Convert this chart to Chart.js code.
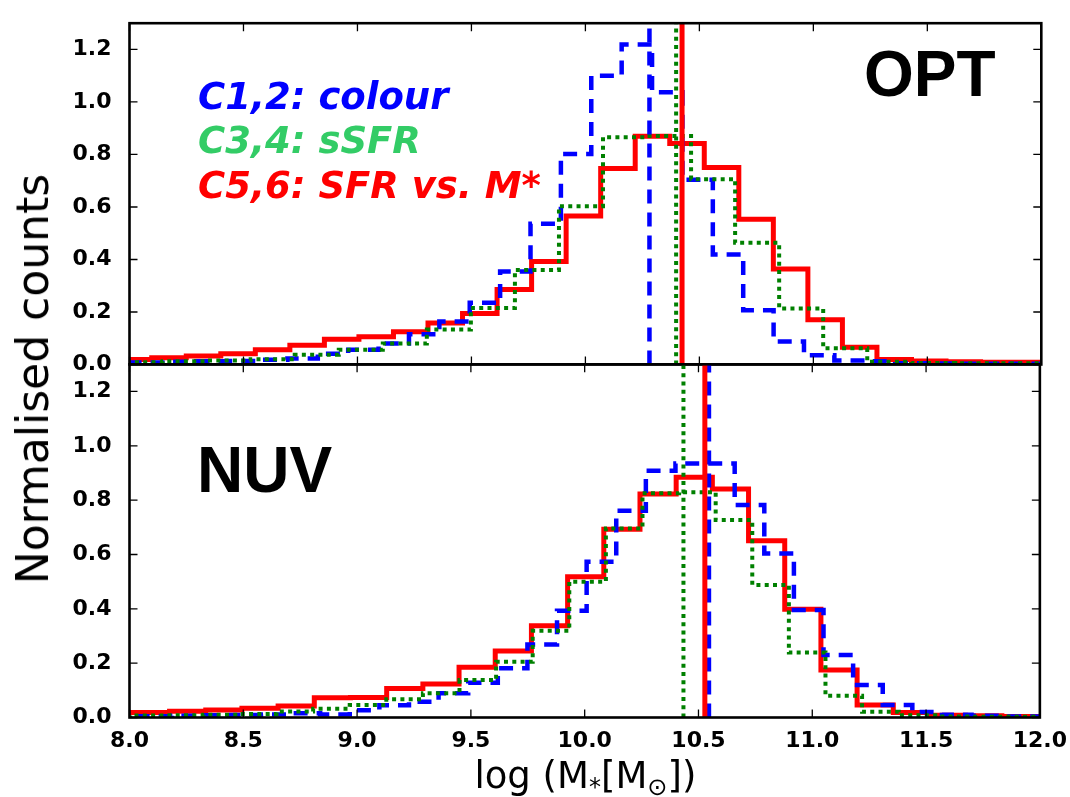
<!DOCTYPE html>
<html><head><meta charset="utf-8">
<script src="https://cdn.jsdelivr.net/npm/chart.js@4.4.1/dist/chart.umd.min.js"></script>
<style>
html,body{margin:0;padding:0;background:#fff;}
#wrap{position:relative;width:1070px;height:797px;overflow:hidden;background:#fff;}
canvas{position:absolute;left:0;top:0;width:1070px;height:797px;}
.t{position:absolute;white-space:nowrap;line-height:1;margin:0;padding:0;}
.ann{font-family:"DejaVu Sans";font-weight:bold;font-style:italic;font-size:37px;left:198px;}
.big{font-family:"Liberation Sans";font-weight:bold;font-size:64px;color:#000;}
</style></head><body>
<div id="wrap">
<canvas id="cTop" width="1070" height="797"></canvas>
<canvas id="cBot" width="1070" height="797"></canvas>
<div class="t" id="ylab" style="font-family:'DejaVu Sans';font-size:44px;color:#000;left:32.5px;top:379px;transform:translate(-50%,-50%) rotate(-90deg);">Normalised counts</div>
<div class="t" id="xlab" style="font-family:'DejaVu Sans';font-size:37px;color:#000;left:585.4px;top:757px;transform:translateX(-50%);">log (M<span style="font-size:0.65em;position:relative;top:0.3em;">*</span>[M<span style="font-size:0.65em;position:relative;top:0.3em;">⊙</span>])</div>
<div class="t ann" style="top:77.5px;color:#0000ff;">C1,2: colour</div>
<div class="t ann" style="top:121.5px;color:#33cc66;">C3,4: sSFR</div>
<div class="t ann" style="top:166.5px;color:#ff0000;">C5,6: SFR vs. M*</div>
<div class="t big" style="left:864px;top:42px;">OPT</div>
<div class="t big" style="left:197px;top:438px;">NUV</div>
</div>
<script>
// ---- axis ticks ----
const xTickValues = [8.0, 8.5, 9.0, 9.5, 10.0, 10.5, 11.0, 11.5, 12.0];
const xTickLabels = ['8.0', '8.5', '9.0', '9.5', '10.0', '10.5', '11.0', '11.5', '12.0'];
const yTickValues = [0.0, 0.2, 0.4, 0.6, 0.8, 1.0, 1.2];
const yTickLabels = ['0.0', '0.2', '0.4', '0.6', '0.8', '1.0', '1.2'];

// ---- OPT panel (top) ----
const optColourBinStart = 7.893, optColourBinWidth = 0.1333;
const optColourCounts = [0.006, 0.008, 0.008, 0.010, 0.012, 0.013, 0.018, 0.023, 0.041, 0.056, 0.080, 0.115, 0.164, 0.235, 0.354, 0.536, 0.802, 1.100, 1.219, 1.037, 0.704, 0.419, 0.207, 0.088, 0.035, 0.015, 0.012, 0.005, 0.004, 0.003, 0.003];
const optSsfrBinStart = 7.952, optSsfrBinWidth = 0.1932;
const optSsfrCounts = [0.008, 0.009, 0.012, 0.015, 0.020, 0.037, 0.056, 0.080, 0.133, 0.215, 0.360, 0.603, 0.866, 0.870, 0.706, 0.464, 0.213, 0.062, 0.010, 0.006, 0.005];
const optSfrmBinStart = 7.946, optSfrmBinWidth = 0.1515;
const optSfrmCounts = [0.018, 0.019, 0.026, 0.032, 0.041, 0.056, 0.073, 0.096, 0.106, 0.125, 0.158, 0.194, 0.286, 0.392, 0.566, 0.747, 0.869, 0.842, 0.750, 0.553, 0.364, 0.170, 0.066, 0.019, 0.013, 0.010, 0.009];
const optMedians = [10.281, 10.398, 10.424]; // colour, sSFR, SFR vs M*

// ---- NUV panel (bottom) ----
const nuvColourBinStart = 7.927, nuvColourBinWidth = 0.1301;
const nuvColourCounts = [0.004, 0.005, 0.005, 0.006, 0.008, 0.009, 0.011, 0.016, 0.011, 0.027, 0.045, 0.058, 0.089, 0.128, 0.181, 0.269, 0.393, 0.573, 0.761, 0.908, 0.935, 0.935, 0.782, 0.604, 0.396, 0.230, 0.120, 0.046, 0.020, 0.010, 0.006, 0.004];
const nuvSsfrBinStart = 7.842, nuvSsfrBinWidth = 0.1608;
const nuvSsfrCounts = [0.005, 0.006, 0.007, 0.008, 0.010, 0.013, 0.022, 0.032, 0.046, 0.067, 0.089, 0.138, 0.205, 0.319, 0.500, 0.696, 0.825, 0.829, 0.727, 0.488, 0.239, 0.080, 0.021, 0.008, 0.004, 0.003];
const nuvSfrmBinStart = 7.858, nuvSfrmBinWidth = 0.159;
const nuvSfrmCounts = [0.008, 0.018, 0.018, 0.023, 0.028, 0.034, 0.042, 0.073, 0.074, 0.107, 0.123, 0.185, 0.245, 0.338, 0.518, 0.693, 0.823, 0.884, 0.841, 0.651, 0.398, 0.175, 0.046, 0.018, 0.008, 0.006, 0.004];
const nuvMedians = [10.546, 10.434, 10.528]; // colour, sSFR, SFR vs M*

// ---- styles ----
const STY = {
  colour: {color: '#0000ff', width: 4.5, dash: [14, 9]},
  ssfr:   {color: '#008000', width: 4,   dash: [4, 4.3]},
  sfrm:   {color: '#ff0000', width: 5,   dash: []}
};
const Y_MAX = 1.3;

function histPoints(start, width, counts) {
  const pts = counts.map((c, i) => ({x: start + i * width, y: c}));
  pts.push({x: start + counts.length * width, y: counts[counts.length - 1]});
  return pts;
}
function lineDs(data, sty, stepped) {
  return {data, borderColor: sty.color, borderWidth: sty.width, borderDash: sty.dash,
    stepped: stepped ? 'after' : false, pointRadius: 0, fill: false, clip: 0,
    borderCapStyle: 'butt', borderJoinStyle: 'miter', tension: 0};
}
function medianDs(v, sty) {
  return lineDs([{x: v, y: 0}, {x: v, y: Y_MAX}], sty, false);
}

const framePlugin = {
  id: 'frame',
  afterDatasetsDraw(chart) {
    const {ctx, chartArea: a} = chart;
    const x = chart.scales.x, y = chart.scales.y;
    ctx.save();
    ctx.strokeStyle = '#000';
    ctx.lineWidth = 1.3;
    ctx.beginPath();
    xTickValues.forEach(v => {
      const p = x.getPixelForValue(v);
      ctx.moveTo(p, a.top); ctx.lineTo(p, a.top + 8);
      ctx.moveTo(p, a.bottom); ctx.lineTo(p, a.bottom - 8);
    });
    yTickValues.forEach(v => {
      const p = y.getPixelForValue(v);
      ctx.moveTo(a.left, p); ctx.lineTo(a.left + 8, p);
      ctx.moveTo(a.right, p); ctx.lineTo(a.right - 8, p);
    });
    ctx.stroke();
    ctx.lineWidth = 2.6;
    ctx.strokeRect(a.left, a.top, a.right - a.left, a.bottom - a.top);
    ctx.restore();
  }
};

const tickFont = {family: 'DejaVu Sans', size: 22, weight: 'bold'};

function makePanel(id, cfg) {
  const datasets = [
    medianDs(cfg.med[2], STY.sfrm),
    medianDs(cfg.med[0], STY.colour),
    medianDs(cfg.med[1], STY.ssfr),
    lineDs(histPoints(cfg.ssfr[0], cfg.ssfr[1], cfg.ssfr[2]), STY.ssfr, true),
    lineDs(histPoints(cfg.colour[0], cfg.colour[1], cfg.colour[2]), STY.colour, true),
    lineDs(histPoints(cfg.sfrm[0], cfg.sfrm[1], cfg.sfrm[2]), STY.sfrm, true)
  ];
  return new Chart(document.getElementById(id), {
    type: 'line',
    data: {datasets},
    options: {
      responsive: false, animation: false, devicePixelRatio: 1,
      layout: {autoPadding: false, padding: {left: 0, right: 28.7, top: cfg.padTop, bottom: cfg.padBottom}},
      plugins: {legend: {display: false}, tooltip: {enabled: false}},
      events: [],
      scales: {
        x: {
          type: 'linear', min: 8, max: 12, display: true,
          grid: {display: false}, border: {display: false},
          afterBuildTicks: s => { s.ticks = xTickValues.map(v => ({value: v})); },
          ticks: {display: cfg.showX, autoSkip: false, maxRotation: 0, padding: 3,
            color: '#000', font: tickFont, callback: (v, i) => xTickLabels[i]},
          afterFit: s => { s.height = cfg.xHeight; }
        },
        y: {
          type: 'linear', min: 0, max: Y_MAX,
          grid: {display: false}, border: {display: false},
          afterBuildTicks: s => { s.ticks = yTickValues.map(v => ({value: v})); },
          ticks: {padding: 10, color: '#000', font: tickFont, autoSkip: false,
            callback: (v, i) => yTickLabels[i]},
          afterFit: s => { s.width = 129.5; }
        }
      }
    },
    plugins: [framePlugin]
  });
}

makePanel('cTop', {
  colour: [optColourBinStart, optColourBinWidth, optColourCounts],
  ssfr: [optSsfrBinStart, optSsfrBinWidth, optSsfrCounts],
  sfrm: [optSfrmBinStart, optSfrmBinWidth, optSfrmCounts],
  med: optMedians, padTop: 11.5, padBottom: 797 - 364.5, showX: false, xHeight: 0
});
makePanel('cBot', {
  colour: [nuvColourBinStart, nuvColourBinWidth, nuvColourCounts],
  ssfr: [nuvSsfrBinStart, nuvSsfrBinWidth, nuvSsfrCounts],
  sfrm: [nuvSfrmBinStart, nuvSfrmBinWidth, nuvSfrmCounts],
  med: nuvMedians, padTop: 364.3, padBottom: 0, showX: true, xHeight: 797 - 717.5
});
</script>
</body></html>
